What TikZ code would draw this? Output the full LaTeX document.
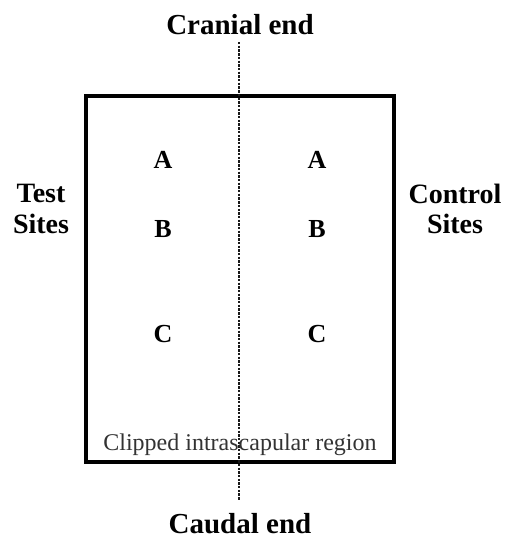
\documentclass[tikz,border=0pt]{standalone}
\usepackage{fontspec}
\setmainfont{Liberation Serif}
\begin{document}
\begin{tikzpicture}[x=1pt,y=-1pt,
  title/.style={font=\fontsize{29}{32}\selectfont\bfseries, anchor=base, inner sep=0pt},
  side/.style={font=\fontsize{28}{31}\selectfont\bfseries, anchor=base, inner sep=0pt},
  site/.style={font=\fontsize{26}{29}\selectfont\bfseries, anchor=base, inner sep=0pt},
  note/.style={font=\fontsize{24}{27}\selectfont, text=black!80, anchor=base, inner sep=0pt}]
\useasboundingbox (0,0) rectangle (509,542);
\node[draw, line width=3.8pt, minimum width=308pt, minimum height=366pt, inner sep=0pt] (region) at (240,279) {};
\coordinate (midtop) at (239,42);
\coordinate (midbot) at (239,500);
\draw[line width=1.2pt, dash pattern=on 2.4pt off 1.3pt, black!90] (midtop) -- (midbot);
\node[title] (cranial) at (240,34) {Cranial end};
\node[title] (caudal) at (240,533) {Caudal end};
\node[side] (test1) at (41,202) {Test};
\node[side] (test2) at (41,233) {Sites};
\node[side] (ctrl1) at (455,203) {Control};
\node[side] (ctrl2) at (455,233) {Sites};
\node[site] (la) at (163,168) {A};
\node[site] (lb) at (163,237) {B};
\node[site] (lc) at (163,342) {C};
\node[site] (ra) at (317,168) {A};
\node[site] (rb) at (317,237) {B};
\node[site] (rc) at (317,342) {C};
\node[note] (clip) at (240,450) {Clipped intrascapular region};
\end{tikzpicture}
\end{document}
